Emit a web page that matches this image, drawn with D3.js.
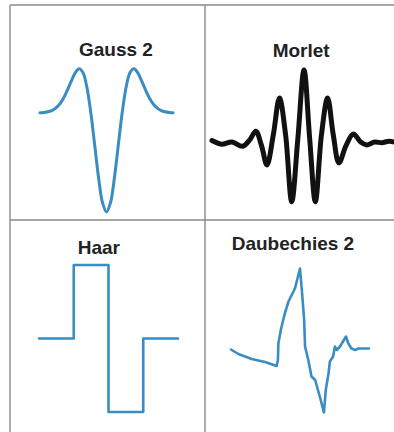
<!DOCTYPE html>
<html><head><meta charset="utf-8">
<script src="https://cdn.jsdelivr.net/npm/d3@7"></script>
<style>html,body{margin:0;padding:0;background:#fff;}svg{display:block;}</style>
</head><body>
<svg id="c" width="394" height="432"></svg>
<script>
const titles = ["Gauss 2", "Morlet", "Haar", "Daubechies 2"];

const gaussT = [-4.25,-4,-3.75,-3.5,-3.25,-3,-2.75,-2.5,-2.25,-2,-1.75,-1.5,-1.25,-1,-0.75,-0.5,-0.25,0,0.25,0.5,0.75,1,1.25,1.5,1.75,2,2.25,2.5,2.75,3,3.25,3.5,3.75,4,4.25];
const gaussV = [0.002,0.005,0.012,0.025,0.049,0.089,0.150,0.231,0.323,0.406,0.446,0.406,0.258,0,-0.330,-0.662,-0.909,-1,-0.909,-0.662,-0.330,0,0.258,0.406,0.446,0.406,0.323,0.231,0.150,0.089,0.049,0.025,0.012,0.005,0.002];

const morletT = [-3.9,-3.5,-3.05,-2.6,-2.3,-2.04,-1.8,-1.57,-1.3,-1.04,-0.78,-0.52,-0.26,0,0.24,0.48,0.74,1.0,1.24,1.48,1.78,2.09,2.4,2.65,3.0,3.3,3.6,3.95];
const morletV = [0.02,-0.03,0.0,-0.06,0.03,0.15,-0.05,-0.32,0.1,0.61,0.1,-0.83,0.05,1.0,0.05,-0.83,0.1,0.61,0.1,-0.29,-0.05,0.11,0.0,-0.04,0.0,-0.01,0.01,-0.01];

const haarT = [-0.5,0,0.5,1,1.5];
const haarV = [0,1,-1,0,0];

const db2T = [0,0.16,0.45,0.74,0.99,1.02,1.03,1.09,1.17,1.25,1.32,1.39,1.50,1.54,1.59,1.61,1.68,1.75,1.83,1.93,2.02,2.06,2.12,2.15,2.22,2.26,2.30,2.37,2.50,2.55,2.62,2.70,2.77,3.0];
const db2V = [0.01,-0.08,-0.18,-0.24,-0.32,-0.20,0.13,0.43,0.73,0.97,1.10,1.23,1.63,1.20,0.60,0.07,-0.20,-0.53,-0.60,-0.93,-1.25,-0.80,-0.47,-0.23,-0.13,0.07,0.0,0.07,0.27,0.13,0.03,0.0,0.03,0.03];

const svg = d3.select("#c");
const blue = "#3a8cc4";

// grid
const g = svg.append("g").attr("stroke", "#8a8a8a").attr("stroke-width", 1.4);
g.append("line").attr("x1", 10).attr("x2", 394).attr("y1", 5).attr("y2", 5);
g.append("line").attr("x1", 10).attr("x2", 10).attr("y1", 5).attr("y2", 432);
g.append("line").attr("x1", 205).attr("x2", 205).attr("y1", 5).attr("y2", 432);
g.append("line").attr("x1", 10).attr("x2", 394).attr("y1", 220).attr("y2", 220);

function draw(T, V, xs, ys, curve, color, width) {
  const pts = T.map((t, i) => [t, V[i]]);
  const line = d3.line().x(d => xs(d[0])).y(d => ys(d[1])).curve(curve);
  svg.append("path").datum(pts).attr("d", line)
    .attr("fill", "none").attr("stroke", color).attr("stroke-width", width)
    .attr("stroke-linejoin", "round").attr("stroke-linecap", "round");
}

// Gauss 2
draw(gaussT, gaussV,
  d3.scaleLinear().domain([-4.25, 4.25]).range([40, 173]),
  d3.scaleLinear().domain([-1, 0]).range([212, 113]),
  d3.curveCatmullRom, blue, 3);

// Morlet
draw(morletT, morletV,
  d3.scaleLinear().domain([-4, 4]).range([209.6, 398.4]),
  d3.scaleLinear().domain([0, 1]).range([142, 70]),
  d3.curveCatmullRom, "#111", 5);

// Haar
draw(haarT, haarV,
  d3.scaleLinear().domain([-0.5, 1.5]).range([39, 178]),
  d3.scaleLinear().domain([-1, 1]).range([412, 265]),
  d3.curveStepAfter, blue, 2.6);

// Daubechies 2
draw(db2T, db2V,
  d3.scaleLinear().domain([0, 3]).range([231, 369]),
  d3.scaleLinear().domain([0, 1]).range([350, 300]),
  d3.curveLinear, blue, 2.6);

// titles
const pos = [[79, 56], [272.7, 57], [77.7, 254], [231.7, 249.5]];
svg.selectAll("text.t").data(titles).join("text").attr("class", "t")
  .attr("x", (d, i) => pos[i][0]).attr("y", (d, i) => pos[i][1])
  .attr("font-family", "'Liberation Sans', Arial, sans-serif")
  .attr("font-weight", "bold").attr("font-size", 19).attr("fill", "#222")
  .text(d => d);
</script>
</body></html>
